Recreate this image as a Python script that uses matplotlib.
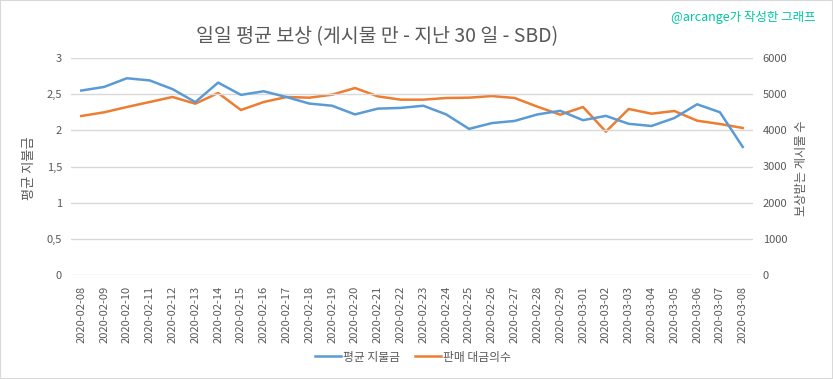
import matplotlib
matplotlib.use("Agg")
import matplotlib.pyplot as plt
from matplotlib.patches import Rectangle

plt.rcParams['font.family'] = ['Noto Sans CJK KR', 'DejaVu Sans']

dates = ["2020-02-08", "2020-02-09", "2020-02-10", "2020-02-11", "2020-02-12", "2020-02-13",
         "2020-02-14", "2020-02-15", "2020-02-16", "2020-02-17", "2020-02-18", "2020-02-19",
         "2020-02-20", "2020-02-21", "2020-02-22", "2020-02-23", "2020-02-24", "2020-02-25",
         "2020-02-26", "2020-02-27", "2020-02-28", "2020-02-29", "2020-03-01", "2020-03-02",
         "2020-03-03", "2020-03-04", "2020-03-05", "2020-03-06", "2020-03-07", "2020-03-08"]
avg_payout = [2.55, 2.60, 2.72, 2.69, 2.57, 2.39, 2.66, 2.49, 2.54, 2.46, 2.37, 2.34,
              2.22, 2.30, 2.31, 2.34, 2.22, 2.02, 2.10, 2.13, 2.22, 2.27, 2.14, 2.20,
              2.09, 2.06, 2.17, 2.36, 2.25, 1.77]
post_count = [4396, 4498, 4645, 4783, 4922, 4737, 5032, 4562, 4783, 4922, 4903, 4986,
              5170, 4940, 4848, 4848, 4894, 4903, 4949, 4894, 4654, 4433, 4645, 3963,
              4590, 4460, 4535, 4267, 4175, 4065]
left_ticks = [0, 0.5, 1, 1.5, 2, 2.5, 3]
left_tick_labels = ["0", "0,5", "1", "1,5", "2", "2,5", "3"]
right_ticks = [0, 1000, 2000, 3000, 4000, 5000, 6000]

title = "일일 평균 보상 (게시물 만 - 지난 30 일 - SBD)"
watermark = "@arcange가 작성한 그래프"
left_label = "평균 지불금"
right_label = "보상받는 게시물 수"
series1 = "평균 지불금"
series2 = "판매 대금의수"

blue = "#5b9bd5"
orange = "#ed7d31"
gray = "#595959"
grid = "#d9d9d9"

W, H = 833, 379
fig = plt.figure(figsize=(W / 100, H / 100), dpi=100)
ax = fig.add_axes([71 / W, 1 - 275 / H, (753 - 71) / W, (275 - 58) / H])
ax2 = ax.twinx()

x = list(range(len(dates)))
l1, = ax.plot(x, avg_payout, color=blue, lw=1.8, solid_joinstyle='round', zorder=3)
l2, = ax2.plot(x, post_count, color=orange, lw=1.8, solid_joinstyle='round', zorder=3)

ax.set_xlim(-0.45, len(dates) - 0.55)
ax.set_ylim(0, 3)
ax2.set_ylim(0, 6000)
ax.set_yticks(left_ticks)
ax.set_yticklabels(left_tick_labels)
ax2.set_yticks(right_ticks)
ax.set_xticks(x)
ax.set_xticklabels(dates, rotation=90)

for a in (ax, ax2):
    for s in a.spines.values():
        s.set_visible(False)
    a.tick_params(length=0, colors=gray, labelsize=8)
ax.tick_params(axis='y', pad=6.5)
ax2.tick_params(axis='y', pad=7)
ax.tick_params(axis='x', pad=8)
ax.grid(axis='y', color=grid, lw=1)
ax.set_axisbelow(True)
ax.patch.set_visible(False)
ax2.set_zorder(ax.get_zorder() - 1)
ax.set_zorder(ax2.get_zorder() + 1)

fig.text(30 / W, 1 - 168 / H, left_label, rotation=90, color=gray, fontsize=9.5,
         ha='center', va='center')
fig.text(801 / W, 1 - 168 / H, right_label, rotation=90, color=gray, fontsize=8.8,
         ha='center', va='center')
fig.text(377 / W, 1 - 37 / H, title, color=gray, fontsize=14, ha='center', va='center')
fig.text(816 / W, 1 - 17 / H, watermark, color="#00c8a0", fontsize=9, ha='right', va='center')

fig.legend([l1, l2], [series1, series2], loc='center', bbox_to_anchor=(413 / W, 1 - 357 / H),
           ncol=2, frameon=False, fontsize=8.5, labelcolor=gray, handlelength=2.2,
           columnspacing=1.3, handletextpad=0.15)

fig.patches.append(Rectangle((0, 0), 1, 1, transform=fig.transFigure, fill=False,
                             edgecolor=grid, lw=1.5))

fig.savefig("out.png", dpi=100)
